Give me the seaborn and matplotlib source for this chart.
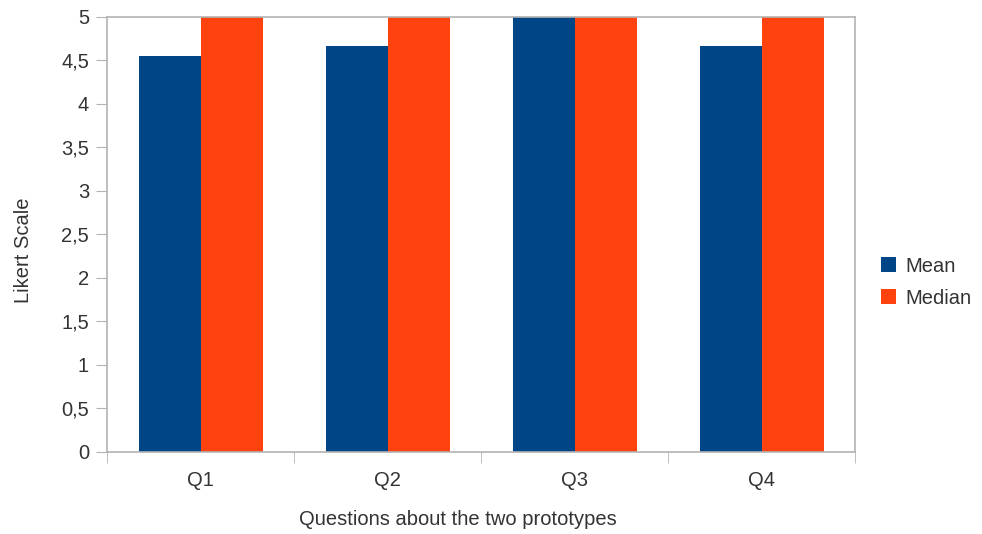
import matplotlib
matplotlib.use('Agg')
import matplotlib.pyplot as plt
import seaborn as sns
import pandas as pd

questions = ["Q1", "Q2", "Q3", "Q4"]
mean_vals = [4.55, 4.67, 5.0, 4.67]
median_vals = [5.0, 5.0, 5.0, 5.0]
series_names = ["Mean", "Median"]
colors = ["#004586", "#ff420e"]
yticks = [0, 0.5, 1, 1.5, 2, 2.5, 3, 3.5, 4, 4.5, 5]
ytick_labels = ["0", "0,5", "1", "1,5", "2", "2,5", "3", "3,5", "4", "4,5", "5"]

df = pd.DataFrame({
    "question": questions * 2,
    "value": mean_vals + median_vals,
    "series": [series_names[0]] * 4 + [series_names[1]] * 4,
})

sns.set_style("white")
plt.rcParams['font.family'] = ['Liberation Sans', 'DejaVu Sans']

fig = plt.figure(figsize=(9.82, 5.34), dpi=100)
ax = fig.add_axes([0.109, 0.1536, 0.7617, 0.8146])

sns.barplot(data=df, x="question", y="value", hue="series", palette=colors,
            width=0.663, saturation=1, linewidth=0, ax=ax)

ax.set_ylim(0, 5)
ax.set_xlim(-0.5, 3.5)
ax.set_yticks(yticks)
ax.set_yticklabels(ytick_labels)

# category ticks sit between groups
ax.set_xticks([-0.5, 0.5, 1.5, 2.5, 3.5], minor=True)
ax.tick_params(axis='x', which='major', length=0, pad=14, labelsize=14.5, labelcolor='#333333')
ax.tick_params(axis='x', which='minor', length=8, color='#b3b3b3', direction='out')
ax.tick_params(axis='y', length=8, color='#b3b3b3', direction='out', pad=5, labelsize=14.5, labelcolor='#333333')
ax.yaxis.set_ticks_position('left')
ax.xaxis.set_ticks_position('bottom')

for s in ax.spines.values():
    s.set_color('#b3b3b3')
    s.set_linewidth(1.2)

ax.set_xlabel("Questions about the two prototypes", fontsize=14.5, color='#333333', labelpad=14)
ax.set_ylabel("Likert Scale", fontsize=14.5, color='#333333', labelpad=20)
# labels in the original are a bit off-centre
ax.xaxis.label.set_x(0.469)
ax.yaxis.label.set_y(0.464)

h, l = ax.get_legend_handles_labels()
ax.legend(h, l, loc='center left', bbox_to_anchor=(1.01, 0.39), frameon=False,
          fontsize=14.5, handlelength=0.75, handleheight=0.75, handletextpad=0.5,
          labelspacing=0.65, labelcolor='#333333')

fig.savefig("out.png", dpi=100)
